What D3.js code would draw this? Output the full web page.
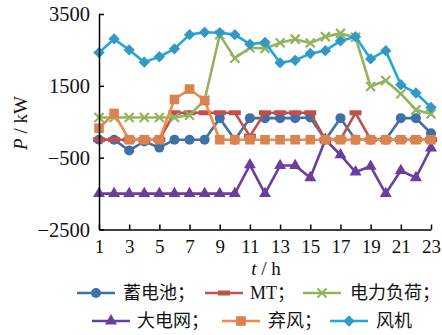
<!DOCTYPE html>
<html>
<head>
<meta charset="utf-8">
<script src="https://cdn.jsdelivr.net/npm/d3@7/dist/d3.min.js"></script>
<style>
  html, body { margin: 0; padding: 0; background: #fff; }
  svg { display: block; }
</style>
</head>
<body>
<svg id="chart" width="442" height="335"></svg>
<script>
// Hourly power schedule, kW
const hours = d3.range(1, 24);
const battery  = [0, 0, -300, -50, -220, 0, 0, 0, 600, 0, 600, 600, 600, 600, 620, 0, 600, 0, 0, 0, 600, 600, 180];
const mt       = [0, 0, 0, 0, 0, 750, 750, 750, 750, 750, 100, 750, 750, 750, 750, 0, 0, 750, 0, 0, 0, 0, 0];
const load     = [620, 620, 620, 620, 620, 620, 680, 1100, 2920, 2270, 2560, 2540, 2700, 2800, 2690, 2870, 2960, 2850, 1480, 1650, 1280, 830, 720];
const grid     = [-1500, -1500, -1500, -1500, -1500, -1500, -1500, -1500, -1500, -1500, -700, -1500, -720, -720, -1060, 0, -420, -900, -740, -1500, -860, -1060, -230];
const curtail  = [320, 730, 0, 0, 0, 1120, 1410, 1090, 0, 0, 0, 0, 0, 0, 0, 0, 0, 0, 0, 0, 0, 0, 0];
const wind     = [2425, 2805, 2500, 2160, 2310, 2530, 2925, 2990, 2980, 2925, 2660, 2710, 2140, 2210, 2400, 2480, 2750, 2870, 2250, 2480, 1530, 1300, 900];
const xTicks = [1, 3, 5, 7, 9, 11, 13, 15, 17, 19, 21, 23];
const yTicks = [-2500, -500, 1500, 3500];

const series = [
  { name: "蓄电池；",   values: battery, line: "#3f70a6", fill: "#3f70a6", marker: "circle" },
  { name: "MT；",       values: mt,      line: "#c0504d", fill: "#c0504d", marker: "bar" },
  { name: "电力负荷；", values: load,    line: "#92b45e", fill: "#92b45e", marker: "cross" },
  { name: "大电网；",   values: grid,    line: "#6a3e9c", fill: "#6a3e9c", marker: "triangle" },
  { name: "弃风；",     values: curtail, line: "#f08a4b", fill: "#d9834e", marker: "square" },
  { name: "风机",       values: wind,    line: "#1ea8e0", fill: "#3399c2", marker: "diamond" }
];

const svg = d3.select("#chart");
const x = d3.scaleLinear().domain([1, 23]).range([99, 431]);
const y = d3.scaleLinear().domain([-2500, 3500]).range([229.5, 14]);
const serif = "'Liberation Serif', 'Times New Roman', serif";

// marker shapes
function drawMarker(g, type, color) {
  if (type === "circle") {
    g.append("circle").attr("r", 5).attr("fill", color);
  } else if (type === "bar") {
    g.append("rect").attr("x", -6).attr("y", -2.5).attr("width", 12).attr("height", 5).attr("fill", color);
  } else if (type === "cross") {
    g.append("path").attr("d", "M-4.5,-4.5L4.5,4.5M-4.5,4.5L4.5,-4.5")
      .attr("stroke", color).attr("stroke-width", 2.2).attr("fill", "none");
  } else if (type === "triangle") {
    g.append("path").attr("d", d3.symbol(d3.symbolTriangle, 62)()).attr("fill", color);
  } else if (type === "square") {
    g.append("rect").attr("x", -4.8).attr("y", -4.8).attr("width", 9.6).attr("height", 9.6).attr("fill", color);
  } else if (type === "diamond") {
    g.append("rect").attr("x", -4).attr("y", -4).attr("width", 8).attr("height", 8)
      .attr("transform", "rotate(45)").attr("fill", color);
  }
}

const line = d3.line().x((d, i) => x(hours[i])).y(d => y(d));

const plot = svg.append("g");
series.forEach(s => {
  const g = plot.append("g");
  g.append("path").datum(s.values).attr("d", line)
    .attr("fill", "none").attr("stroke", s.line).attr("stroke-width", 2.6)
    .attr("stroke-linejoin", "round");
  s.values.forEach((v, i) => {
    const m = g.append("g").attr("transform", `translate(${x(hours[i])},${y(v)})`);
    drawMarker(m, s.marker, s.fill);
  });
});

// axes
const fmt = d => (d < 0 ? "\u2212" : "") + Math.abs(d);
const yAxis = svg.append("g").attr("transform", "translate(99,0)")
  .call(d3.axisLeft(y).tickValues(yTicks).tickFormat(fmt).tickSizeInner(-5).tickSizeOuter(0).tickPadding(9));
const xAxis = svg.append("g").attr("transform", "translate(0,229.5)")
  .call(d3.axisBottom(x).tickValues(xTicks).tickFormat(fmt).tickSizeInner(-5).tickSizeOuter(0).tickPadding(10));
yAxis.attr("font-family", serif).attr("font-size", 20.5);
xAxis.attr("font-family", serif).attr("font-size", 19);
[yAxis, xAxis].forEach(a => {
  a.selectAll("path, line").attr("stroke", "#000").attr("stroke-width", 1.5);
  a.selectAll("text").attr("fill", "#111");
});

// axis titles
const xt = svg.append("text").attr("x", 266).attr("y", 275).attr("text-anchor", "middle")
  .attr("font-family", serif).attr("font-size", 19).attr("fill", "#111");
xt.append("tspan").attr("font-style", "italic").text("t");
xt.append("tspan").text(" / h");

const yt = svg.append("text").attr("transform", "translate(27,123) rotate(-90)")
  .attr("text-anchor", "middle").attr("font-family", serif).attr("font-size", 19).attr("fill", "#111");
yt.append("tspan").attr("font-style", "italic").text("P");
yt.append("tspan").text(" / kW");

// legend
const legendPos = [
  { x0: 77, tx: 123, y: 293 },
  { x0: 205, tx: 250, y: 293 },
  { x0: 303, tx: 350, y: 293 },
  { x0: 92, tx: 137, y: 321 },
  { x0: 222, tx: 268, y: 321 },
  { x0: 330, tx: 376, y: 321 }
];
series.forEach((s, i) => {
  const p = legendPos[i];
  const g = svg.append("g");
  g.append("line").attr("x1", p.x0).attr("x2", p.x0 + 38).attr("y1", p.y).attr("y2", p.y)
    .attr("stroke", s.line).attr("stroke-width", 2.6);
  const m = g.append("g").attr("transform", `translate(${p.x0 + 19},${p.y})`);
  drawMarker(m, s.marker, s.fill);
  g.append("text").attr("x", p.tx).attr("y", p.y).attr("dy", "0.36em")
    .attr("font-family", "'Liberation Serif', 'Noto Sans CJK SC', serif")
    .attr("font-size", 18).attr("fill", "#111").text(s.name);
});
</script>
</body>
</html>
